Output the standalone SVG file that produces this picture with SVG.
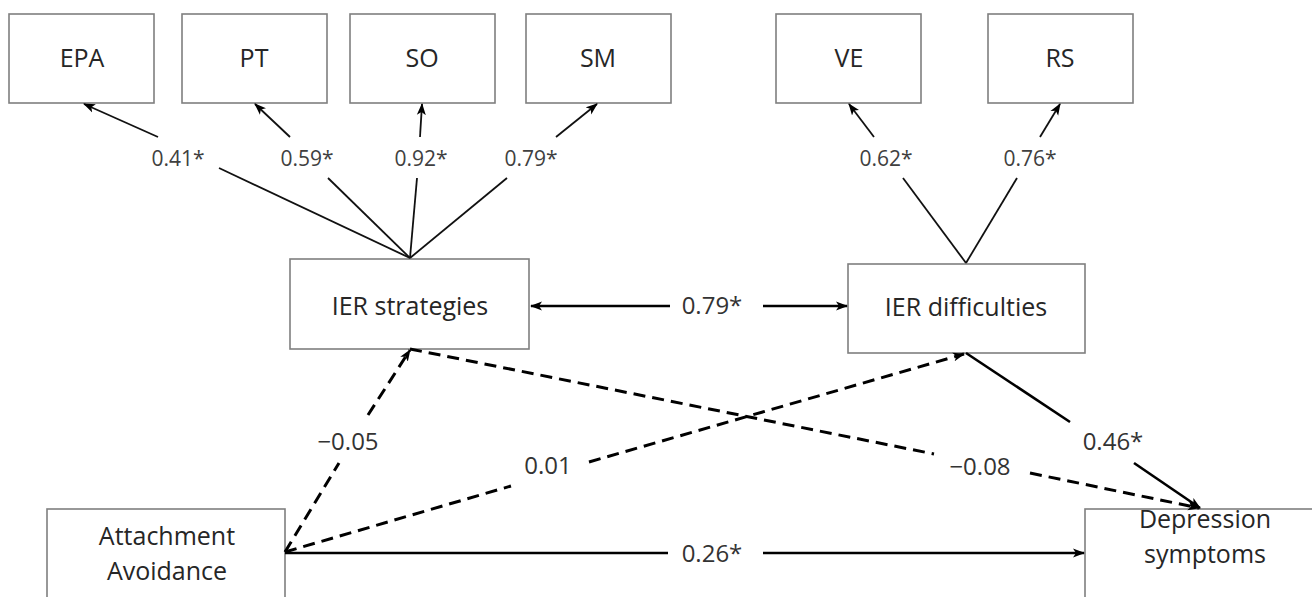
<svg xmlns="http://www.w3.org/2000/svg" width="1312" height="597" viewBox="0 0 1312 597">
<style>
.box{fill:#fff;stroke:#7f7f7f;stroke-width:1.6}
.nt{font-family:"Open Sans","Liberation Sans",sans-serif;font-size:25px;fill:#262626;text-anchor:middle}
.lt{font-family:"Open Sans","Liberation Sans",sans-serif;font-size:24px;fill:#333;text-anchor:middle}
.st{font-family:"Open Sans","Liberation Sans",sans-serif;font-size:21px;fill:#404040;text-anchor:middle}
.fan{stroke:#111;stroke-width:1.8;fill:none}
.sol{stroke:#000;stroke-width:2.6;fill:none}
.dash{stroke:#000;stroke-width:3;fill:none;stroke-dasharray:12 7}
</style>
<defs>
<marker id="ah" viewBox="0 0 12 10" refX="11" refY="5" markerWidth="12" markerHeight="10" markerUnits="userSpaceOnUse" orient="auto">
<path d="M0,0.5 L12,5 L0,9.5 L3,5 z" fill="#000"/>
</marker>
</defs>
<rect width="1312" height="597" fill="#fff"/>
<g id="node-EPA"><rect class="box" x="9" y="14" width="145" height="89"/><text class="nt" x="82" y="67">EPA</text></g>
<g id="node-PT"><rect class="box" x="182" y="14" width="145" height="89"/><text class="nt" x="254" y="67">PT</text></g>
<g id="node-SO"><rect class="box" x="350" y="14" width="145" height="89"/><text class="nt" x="422" y="67">SO</text></g>
<g id="node-SM"><rect class="box" x="526" y="14" width="145" height="89"/><text class="nt" x="598" y="67">SM</text></g>
<g id="node-VE"><rect class="box" x="776" y="14" width="145" height="89"/><text class="nt" x="849" y="67">VE</text></g>
<g id="node-RS"><rect class="box" x="988" y="14" width="145" height="89"/><text class="nt" x="1060" y="67">RS</text></g>
<g id="node-IERs"><rect class="box" x="290" y="259" width="239" height="90"/><text class="nt" x="410" y="315">IER strategies</text></g>
<g id="node-IERd"><rect class="box" x="848" y="264" width="237" height="89"/><text class="nt" x="966" y="316">IER difficulties</text></g>
<g id="node-AA"><rect class="box" x="47" y="509" width="238" height="120"/><text class="nt" x="167" y="545">Attachment</text><text class="nt" x="167" y="580">Avoidance</text></g>
<g id="node-DS"><rect class="box" x="1085" y="509" width="260" height="120"/><text class="nt" x="1205" y="528">Depression</text><text class="nt" x="1205" y="563">symptoms</text></g>
<g id="connectors">
<line class="fan" x1="219" y1="168" x2="410" y2="258"/>
<line class="fan" x1="158" y1="137" x2="84" y2="104" marker-end="url(#ah)"/>
<line class="fan" x1="328" y1="178" x2="410" y2="258"/>
<line class="fan" x1="290" y1="137" x2="255" y2="104" marker-end="url(#ah)"/>
<line class="fan" x1="417" y1="178" x2="410" y2="258"/>
<line class="fan" x1="420" y1="137" x2="422" y2="104" marker-end="url(#ah)"/>
<line class="fan" x1="507" y1="178" x2="410" y2="258"/>
<line class="fan" x1="556" y1="137" x2="597" y2="104" marker-end="url(#ah)"/>
<line class="fan" x1="903" y1="178" x2="966" y2="263"/>
<line class="fan" x1="874" y1="137" x2="849" y2="104" marker-end="url(#ah)"/>
<line class="fan" x1="1017" y1="178" x2="966" y2="263"/>
<line class="fan" x1="1040" y1="137" x2="1060" y2="104" marker-end="url(#ah)"/>
<text class="st" x="178" y="166">0.41*</text>
<text class="st" x="307" y="166">0.59*</text>
<text class="st" x="421" y="166">0.92*</text>
<text class="st" x="531" y="166">0.79*</text>
<text class="st" x="886" y="166">0.62*</text>
<text class="st" x="1030" y="166">0.76*</text>
<line class="sol" x1="670" y1="306" x2="531" y2="306" marker-end="url(#ah)"/>
<line class="sol" x1="763" y1="306" x2="847" y2="306" marker-end="url(#ah)"/>
<text class="lt" x="712" y="314">0.79*</text>
<line class="dash" x1="285" y1="552" x2="339" y2="463"/>
<line class="dash" x1="368" y1="415" x2="410" y2="350" marker-end="url(#ah)"/>
<text class="lt" x="348" y="450">−0.05</text>
<line class="dash" x1="285" y1="552" x2="511" y2="486"/>
<line class="dash" x1="589" y1="462" x2="964" y2="354" marker-end="url(#ah)"/>
<text class="lt" x="548" y="474">0.01</text>
<line class="dash" x1="410" y1="349" x2="934" y2="454"/>
<line class="dash" x1="1030" y1="473" x2="1199" y2="508" marker-end="url(#ah)"/>
<text class="lt" x="980" y="475">−0.08</text>
<line class="sol" x1="966" y1="353" x2="1070" y2="422"/>
<line class="sol" x1="1134" y1="463" x2="1200" y2="508" marker-end="url(#ah)"/>
<text class="lt" x="1113" y="450">0.46*</text>
<line class="sol" x1="285" y1="553" x2="668" y2="553"/>
<line class="sol" x1="763" y1="553" x2="1084" y2="553" marker-end="url(#ah)"/>
<text class="lt" x="712" y="562">0.26*</text>
</g>
</svg>
